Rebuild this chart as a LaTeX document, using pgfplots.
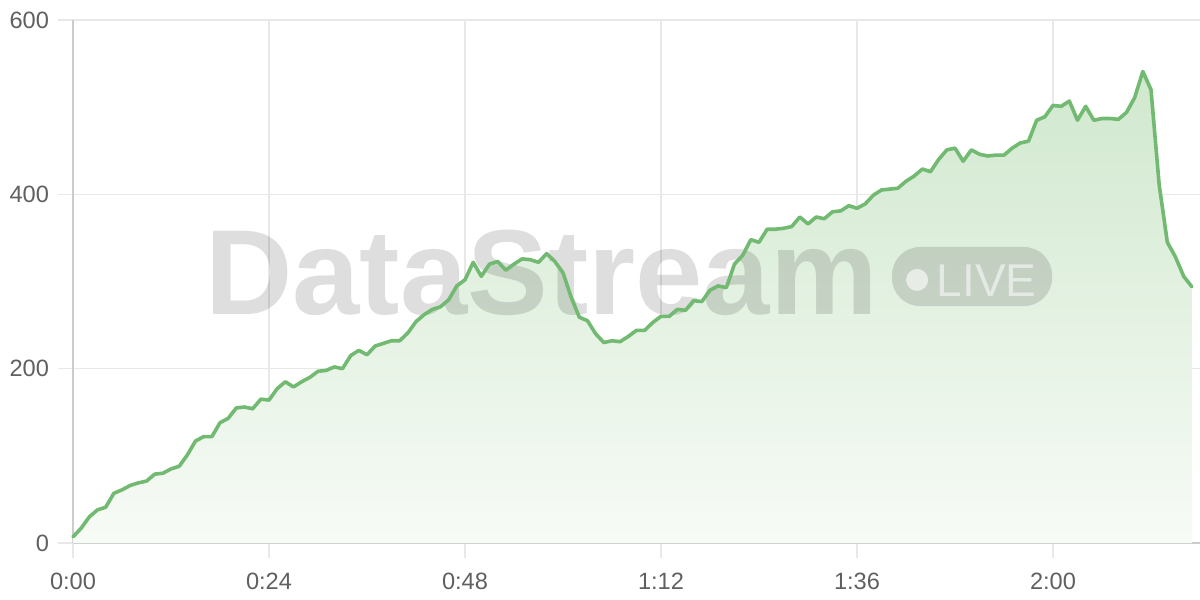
\documentclass[border=0pt]{standalone}
\usepackage{fontspec}
\setmainfont{Liberation Sans}
\usepackage{pgfplots}
\usepackage{pgfplotstable}
\pgfplotsset{compat=1.18}

\definecolor{linegreen}{RGB}{114,185,114}
\definecolor{filltop}{RGB}{208,232,206}
\definecolor{fillbot}{RGB}{247,251,246}
\definecolor{gridgray}{RGB}{232,232,232}
\definecolor{axisgray}{RGB}{204,204,204}
\definecolor{labelgray}{RGB}{96,96,96}

\pgfplotstableread{
t v
0 7
1 17
2 30
3 38
4 41
5 57
6 61
7 66
8 69
9 71
10 79
11 80
12 85
13 88
14 101
15 117
16 122
17 122
18 138
19 143
20 155
21 156
22 154
23 165
24 164
25 177
26 185
27 179
28 185
29 190
30 197
31 198
32 202
33 200
34 215
35 221
36 216
37 226
38 229
39 232
40 232
41 241
42 254
43 262
44 268
45 271
46 279
47 295
48 302
49 322
50 306
51 320
52 323
53 313
54 320
55 326
56 325
57 322
58 332
59 323
60 310
61 282
62 259
63 255
64 240
65 230
66 232
67 231
68 237
69 244
70 244
71 253
72 260
73 260
74 268
75 267
76 278
77 277
78 290
79 295
80 293
81 320
82 330
83 348
84 345
85 360
86 360
87 361
88 363
89 374
90 366
91 374
92 372
93 380
94 381
95 387
96 384
97 389
98 399
99 405
100 406
101 407
102 415
103 421
104 429
105 426
106 440
107 451
108 453
109 438
110 451
111 446
112 444
113 445
114 445
115 453
116 459
117 461
118 485
119 489
120 502
121 501
122 507
123 485
124 501
125 485
126 487
127 487
128 486
129 494
130 511
131 541
132 520
133 411
134 345
135 328
136 306
137 294
}\viewers

\begin{document}
\begin{tikzpicture}
  \begin{axis}[
      scale only axis,
      width=563.5pt, height=261.5pt,
      xmin=0, xmax=138,
      ymin=0, ymax=600,
      axis x line*=bottom,
      axis y line*=left,
      axis line style={axisgray, line width=0.8pt},
      xtick={0,24,48,72,96,120},
      xticklabels={0:00,0:24,0:48,1:12,1:36,2:00},
      ytick={0,200,400,600},
      grid=major,
      grid style={gridgray, line width=0.7pt},
      tick align=outside,
      major tick length=7.5pt,
      tick style={gridgray, line width=0.7pt},
      ticklabel style={font=\fontsize{11.8}{14}\selectfont, text=labelgray},
      /pgf/number format/assume math mode=true,
      xticklabel style={yshift=-4pt},
      yticklabel style={xshift=-1pt},
      clip=false,
    ]
    \addplot[draw=none, top color=filltop, bottom color=fillbot]
      table[x=t, y=v] {\viewers} \closedcycle;

    % watermark
    \node[anchor=base west, inner sep=0pt, text=black, opacity=0.13,
          font=\fontsize{60.5}{60}\selectfont\bfseries]
      at (axis description cs:0.117,0.436) {DataStream};
    \fill[black, opacity=0.13, rounded corners=14pt]
      (axis description cs:0.7267,0.453) rectangle (axis description cs:0.8687,0.566);
    \fill[white, opacity=0.6] (axis description cs:0.749,0.503) circle (5.5pt);
    \node[anchor=base west, inner sep=0pt, text=white, opacity=0.55,
          font=\fontsize{23}{23}\selectfont]
      at (axis description cs:0.7660,0.472) {LIVE};

    \addplot[linegreen, line width=1.8pt, line join=round, line cap=round]
      table[x=t, y=v] {\viewers};
  \end{axis}
  \pgfresetboundingbox
  \path (-36.5pt,-28.5pt) rectangle (563.5pt,271.5pt);
\end{tikzpicture}
\end{document}
